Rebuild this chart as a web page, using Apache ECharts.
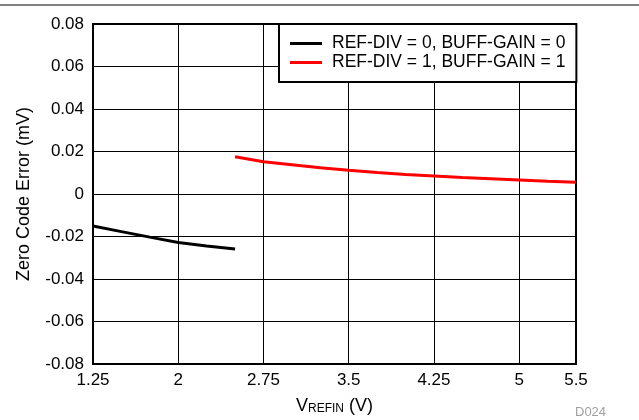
<!DOCTYPE html>
<html>
<head>
<meta charset="utf-8">
<script src="https://cdn.jsdelivr.net/npm/echarts@6/dist/echarts.min.js"></script>
<style>html,body{margin:0;padding:0;background:#fff}#c{width:639px;height:420px}</style>
</head>
<body>
<div id="c"></div>
<script>
var xTicks = [1.25, 2, 2.75, 3.5, 4.25, 5, 5.5];
var seriesNames = ['REF-DIV = 0, BUFF-GAIN = 0', 'REF-DIV = 1, BUFF-GAIN = 1'];
var vrefin0 = [1.25, 1.5, 1.75, 2, 2.25, 2.5];
var err0 = [-0.0151, -0.0177, -0.0203, -0.0228, -0.0245, -0.0259];
var vrefin1 = [2.5, 2.75, 3, 3.25, 3.5, 3.75, 4, 4.25, 4.5, 4.75, 5, 5.25, 5.5];
var err1 = [0.0175, 0.0152, 0.0138, 0.0124, 0.0112, 0.0101, 0.0092, 0.0085, 0.0078, 0.0072, 0.0066, 0.0060, 0.0055];

function pairs(xs, ys) { return xs.map(function (x, i) { return [x, ys[i]]; }); }

var font = 'Liberation Sans, Arial, Helvetica, sans-serif';
var chart = echarts.init(document.getElementById('c'), null, { renderer: 'canvas' });
chart.setOption({
  animation: false,
  backgroundColor: '#fff',
  textStyle: { fontFamily: font },
  grid: { left: 93, right: 63, top: 24, bottom: 56, show: true, borderColor: '#000', borderWidth: 2, backgroundColor: 'transparent' },
  legend: {
    orient: 'vertical', left: 279, top: 24,
    padding: [10, 11, 10, 11], itemGap: 0,
    borderColor: '#000', borderWidth: 2, borderRadius: 0, backgroundColor: '#fff',
    icon: 'rect', itemWidth: 32, itemHeight: 3,
    textStyle: { fontSize: 17.5, color: '#000', fontFamily: font, lineHeight: 19, padding: [0, 0, 0, 5] },
    data: seriesNames
  },
  xAxis: {
    type: 'value', min: 1.25, max: 5.5,
    name: '{a|V}{b|REFIN}{a| (V)}', nameLocation: 'middle', nameGap: 31,
    nameTextStyle: { rich: {
      a: { fontSize: 18, color: '#000', fontFamily: font, verticalAlign: 'bottom', lineHeight: 20 },
      b: { fontSize: 12, color: '#000', fontFamily: font, verticalAlign: 'bottom', lineHeight: 15 }
    } },
    axisLine: { show: false },
    axisTick: { show: false, customValues: xTicks },
    axisLabel: { customValues: xTicks, fontSize: 17, color: '#000', margin: 8, fontFamily: font,
      formatter: function (v) { return String(v); } },
    splitLine: { show: true, lineStyle: { color: '#000', width: 1 } }
  },
  yAxis: {
    type: 'value', min: -0.08, max: 0.08, interval: 0.02,
    name: 'Zero Code Error (mV)', nameLocation: 'middle', nameGap: 60,
    nameTextStyle: { fontSize: 18, color: '#000', fontFamily: font },
    axisLine: { show: false }, axisTick: { show: false },
    axisLabel: { fontSize: 17, color: '#000', margin: 9, fontFamily: font,
      formatter: function (v) { return Math.abs(v) < 1e-9 ? '0' : v.toFixed(2); } },
    splitLine: { show: true, lineStyle: { color: '#000', width: 1 } }
  },
  series: [
    { name: seriesNames[0], type: 'line', data: pairs(vrefin0, err0), symbol: 'none', color: '#000', lineStyle: { color: '#000', width: 3 }, z: 3 },
    { name: seriesNames[1], type: 'line', data: pairs(vrefin1, err1), symbol: 'none', color: '#ff0000', lineStyle: { color: '#ff0000', width: 3 }, z: 3 }
  ],
  graphic: [
    { type: 'line', shape: { x1: 0, y1: 5, x2: 639, y2: 5 }, style: { stroke: '#808080', lineWidth: 2 } },
    { type: 'text', left: 575, top: 406, style: { text: 'D024', fill: '#a0a0a0', fontSize: 13, fontFamily: font } }
  ]
});
</script>
</body>
</html>
